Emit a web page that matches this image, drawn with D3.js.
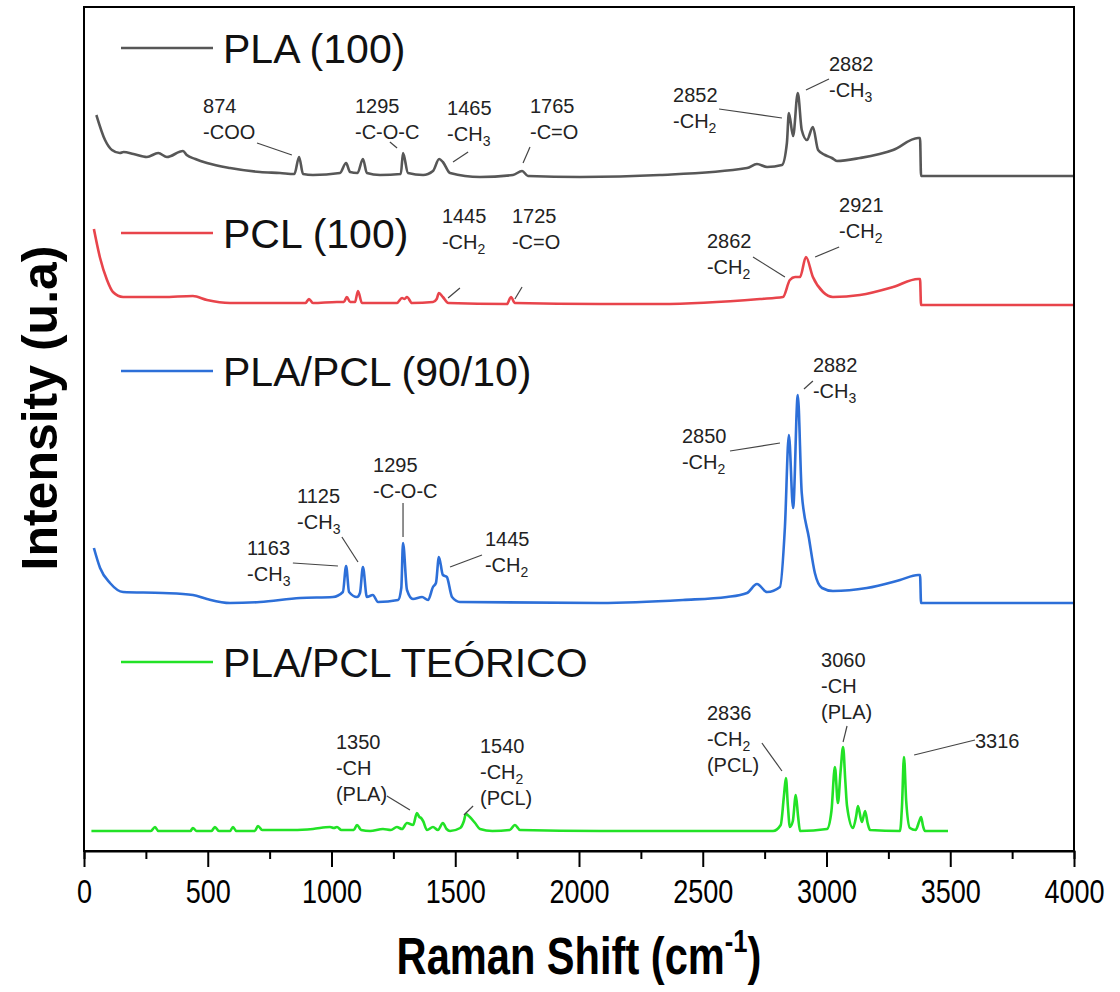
<!DOCTYPE html>
<html>
<head>
<meta charset="utf-8">
<script src="https://cdn.jsdelivr.net/npm/d3@7"></script>
<style>
  body { margin: 0; background: #fff; }
  text { font-family: "Liberation Sans", Arial, sans-serif; }
</style>
</head>
<body>
<div id="main"></div>
<script>
// Raman spectra, [shift cm-1, intensity above each trace's own baseline]
var plaSpectrum = [[50,61],[85,36],[113,26],[145,23],[160,24],[200,22],[254,19],[300,23],[335,19],[400,25],[415,21],[450,17],[497,13],[590,8],[711,4],[792,3],[850,2],[869,19],[885,2],[925,1],[1034,3],[1059,13],[1075,4],[1105,3],[1127,17],[1143,3],[1196,1],[1280,2],[1289,23],[1309,3],[1370,1],[1410,5],[1435,17],[1450,14],[1479,3],[1600,-1],[1733,1],[1770,5],[1794,0],[2004,-1],[2327,1],[2679,8],[2719,12],[2760,9],[2820,11],[2840,33],[2848,63],[2865,40],[2884,83],[2900,46],[2921,36],[2945,49],[2966,26],[2994,21],[3022,18],[3042,15],[3135,18],[3269,26],[3370,38],[3378,38],[3382,0],[4000,0]];

var pclSpectrum = [[40,76],[65,47],[93,25],[117,13],[158,8],[319,8],[440,9],[497,5],[590,2],[792,2],[895,2],[909,6],[925,2],[1022,3],[1050,3],[1062,8],[1075,3],[1095,3],[1107,14],[1123,2],[1264,2],[1285,7],[1295,6],[1305,8],[1325,2],[1410,3],[1425,6],[1434,12],[1450,8],[1472,2],[1709,1],[1725,8],[1741,2],[2085,1],[2327,1],[2731,6],[2824,8],[2852,25],[2873,28],[2893,28],[2917,48],[2945,28],[2986,13],[3026,8],[3135,10],[3269,18],[3370,26],[3378,26],[3382,0],[4000,0]];

var blendSpectrum = [[40,55],[65,35],[105,20],[158,11],[319,10],[440,8],[497,4],[590,0],[711,1],[873,5],[1006,6],[1046,11],[1059,37],[1071,11],[1103,6],[1115,10],[1127,36],[1143,6],[1167,8],[1188,1],[1269,3],[1282,15],[1289,60],[1305,13],[1329,4],[1366,6],[1390,3],[1410,16],[1422,20],[1434,46],[1450,28],[1466,26],[1487,6],[1519,1],[2085,0],[2420,3],[2598,6],[2679,10],[2719,19],[2760,11],[2812,16],[2832,76],[2848,168],[2865,95],[2884,208],[2900,110],[2929,65],[2953,30],[2982,15],[3026,12],[3163,15],[3297,23],[3370,28],[3378,28],[3382,0],[4000,0]];

var theoSpectrum = [[30,0],[270,0],[287,4],[300,0],[430,0],[440,3],[455,0],[515,0],[529,4],[545,0],[590,0],[602,4],[615,0],[690,0],[703,5],[720,1],[845,1],[925,2],[994,4],[1010,3],[1022,4],[1040,1],[1090,1],[1103,6],[1120,1],[1156,0],[1208,2],[1240,1],[1264,4],[1285,2],[1305,8],[1330,6],[1345,18],[1355,14],[1362,13],[1370,10],[1386,1],[1410,4],[1430,1],[1450,8],[1465,2],[1479,0],[1520,3],[1535,10],[1543,17],[1559,14],[1580,8],[1600,2],[1650,0],[1720,1],[1741,6],[1762,1],[2085,0],[2784,0],[2815,6],[2828,35],[2836,53],[2844,25],[2852,4],[2864,10],[2876,36],[2885,15],[2893,0],[3002,2],[3020,20],[3034,64],[3046,28],[3057,60],[3067,84],[3076,50],[3083,25],[3107,3],[3120,15],[3127,25],[3143,9],[3156,20],[3166,8],[3176,1],[3297,0],[3305,25],[3313,74],[3322,30],[3337,3],[3360,1],[3375,10],[3382,14],[3390,5],[3398,0],[3491,0]];

var seriesNames = ["PLA (100)", "PCL (100)", "PLA/PCL (90/10)", "PLA/PCL TEÓRICO"];
var seriesOffsets = [675, 546, 248, 20];
var seriesColors = ["#575757", "#e8444b", "#2d6fd8", "#22e226"];
var spectra = [plaSpectrum, pclSpectrum, blendSpectrum, theoSpectrum];

var xTicks = [0, 500, 1000, 1500, 2000, 2500, 3000, 3500, 4000];

// peak labels: series index, text lines, text anchor and leader line in data units
var peakLabels = [
  {s: 0, lines: ["874", "-COO"], at: [481, 63], lead: [[699, 33], [840, 21]]},
  {s: 0, lines: ["1295", "-C-O-C"], at: [1095, 63], lead: [[1236, 34], [1265, 28]]},
  {s: 0, lines: ["1465", "-CH_3"], at: [1467, 61], lead: [[1552, 24], [1491, 14]]},
  {s: 0, lines: ["1765", "-C=O"], at: [1802, 63], lead: [[1802, 29], [1774, 13]]},
  {s: 0, lines: ["2852", "-CH_2"], at: [2380, 74], lead: [[2566, 67], [2820, 58]]},
  {s: 0, lines: ["2882", "-CH_3"], at: [3010, 105], lead: [[3010, 97], [2917, 86]]},
  {s: 1, lines: ["1445", "-CH_2"], at: [1446, 82], lead: [[1519, 17], [1471, 7]]},
  {s: 1, lines: ["1725", "-C=O"], at: [1729, 82], lead: [[1770, 18], [1741, 6]]},
  {s: 1, lines: ["2862", "-CH_2"], at: [2517, 57], lead: [[2703, 48], [2832, 28]]},
  {s: 1, lines: ["2921", "-CH_2"], at: [3051, 93], lead: [[3051, 58], [2954, 48]]},
  {s: 2, lines: ["1295", "-C-O-C"], at: [1168, 131], lead: [[1289, 100], [1289, 66]]},
  {s: 2, lines: ["1125", "-CH_3"], at: [861, 100], lead: [[1042, 66], [1107, 41]]},
  {s: 2, lines: ["1163", "-CH_3"], at: [659, 48], lead: [[844, 40], [1026, 37]]},
  {s: 2, lines: ["1445", "-CH_2"], at: [1620, 57], lead: [[1608, 48], [1479, 36]]},
  {s: 2, lines: ["2882", "-CH_3"], at: [2945, 231], lead: [[2945, 222], [2909, 214]]},
  {s: 2, lines: ["2850", "-CH_2"], at: [2416, 160], lead: [[2610, 152], [2812, 160]]},
  {s: 3, lines: ["1350", "-CH", "(PLA)"], at: [1018, 82], lead: [[1224, 35], [1317, 21]]},
  {s: 3, lines: ["1540", "-CH_2", "(PCL)"], at: [1600, 78], lead: [[1572, 25], [1535, 16]]},
  {s: 3, lines: ["3060", "-CH", "(PLA)"], at: [2978, 164], lead: [[3083, 105], [3067, 89]]},
  {s: 3, lines: ["2836", "-CH_2", "(PCL)"], at: [2517, 111], lead: [[2739, 88], [2820, 60]]},
  {s: 3, lines: ["3316"], at: [3600, 83], lead: [[3600, 91], [3354, 76]]}
];

var W = 1120, H = 992;
var margin = {top: 7, right: 46, bottom: 141, left: 84};
var legendRows = [48, 233, 371, 662];

var svg = d3.select("#main").append("svg")
    .attr("width", W)
    .attr("height", H);

var x = d3.scaleLinear().domain([0, 4000]).range([margin.left, W - margin.right]);
var y = d3.scaleLinear().domain([0, 844]).range([H - margin.bottom, margin.top]);

// spectra
spectra.forEach(function(data, i) {
  var line = d3.line()
      .x(function(d) { return x(d[0]); })
      .y(function(d) { return y(d[1] + seriesOffsets[i]); })
      .curve(d3.curveMonotoneX);
  svg.append("path")
      .datum(data)
      .attr("fill", "none")
      .attr("stroke", seriesColors[i])
      .attr("stroke-width", 2.6)
      .attr("stroke-linejoin", "round")
      .attr("d", line);
});

// legend
seriesNames.forEach(function(name, i) {
  var ly = legendRows[i];
  svg.append("line")
      .attr("x1", 121).attr("x2", 213)
      .attr("y1", ly).attr("y2", ly)
      .attr("stroke", seriesColors[i])
      .attr("stroke-width", 2.6);
  svg.append("text")
      .attr("x", 223).attr("y", ly + 15)
      .attr("font-size", 41)
      .attr("fill", "#111")
      .text(name);
});

// peak labels
peakLabels.forEach(function(p) {
  var off = seriesOffsets[p.s];
  var tx = x(p.at[0]), ty = y(p.at[1] + off);
  p.lines.forEach(function(ln, k) {
    var parts = ln.split("_");
    var t = svg.append("text")
        .attr("x", tx).attr("y", ty + k * 26)
        .attr("font-size", 20)
        .attr("fill", "#222");
    t.append("tspan").text(parts[0]);
    if (parts[1]) t.append("tspan").attr("font-size", 14).attr("dy", 5).text(parts[1]);
  });
  svg.append("line")
      .attr("x1", x(p.lead[0][0])).attr("y1", y(p.lead[0][1] + off))
      .attr("x2", x(p.lead[1][0])).attr("y2", y(p.lead[1][1] + off))
      .attr("stroke", "#444")
      .attr("stroke-width", 1.2);
});

// frame
svg.append("rect")
    .attr("x", x(0)).attr("y", y(844))
    .attr("width", x(4000) - x(0))
    .attr("height", y(0) - y(844))
    .attr("fill", "none")
    .attr("stroke", "#000")
    .attr("stroke-width", 2);

// x axis, major and minor ticks outward
var gx = svg.append("g")
    .attr("transform", "translate(0," + y(0) + ")");
gx.call(d3.axisBottom(x).tickValues(d3.range(250, 4000, 500)).tickSize(8).tickFormat(""));
gx.call(function(g) {
  var major = g.append("g").call(d3.axisBottom(x).tickValues(xTicks).tickSize(16).tickPadding(13).tickFormat(d3.format("d")));
  major.selectAll("text")
      .attr("font-size", 33)
      .attr("fill", "#000")
      .attr("transform", "scale(0.82,1)")
      .style("font-family", "'Liberation Sans', Arial, sans-serif");
  major.select(".domain").remove();
});
gx.selectAll(".tick line").attr("stroke", "#000").attr("stroke-width", 2);
gx.select(".domain").attr("stroke", "#000").attr("stroke-width", 2);

// axis titles
var xt = svg.append("g")
    .attr("transform", "translate(" + (x(0) + x(4000)) / 2 + ",974)scale(0.8,1)")
  .append("text")
    .attr("text-anchor", "middle")
    .attr("font-size", 52)
    .attr("font-weight", "bold")
    .attr("fill", "#000");
xt.append("tspan").text("Raman Shift (cm");
xt.append("tspan").attr("font-size", 32).attr("dy", -22).text("-1");
xt.append("tspan").attr("dy", 22).text(")");

svg.append("text")
    .attr("transform", "translate(57," + 408 + ")rotate(-90)")
    .attr("text-anchor", "middle")
    .attr("font-size", 50)
    .attr("font-weight", "bold")
    .attr("fill", "#000")
    .text("Intensity (u.a)");
</script>
</body>
</html>
